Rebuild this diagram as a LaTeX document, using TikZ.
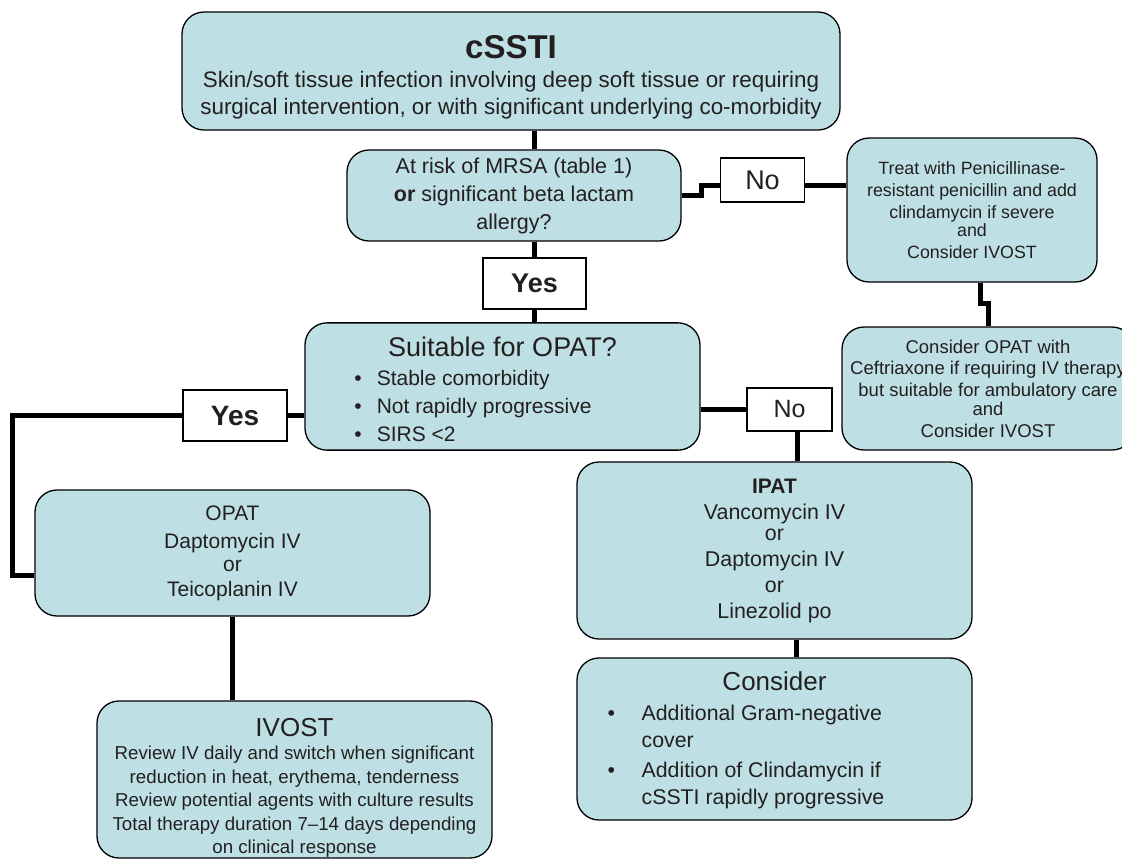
\documentclass[tikz,border=0pt]{standalone}
\usepackage{fontspec}
\setmainfont{Liberation Sans}
\usetikzlibrary{positioning}
\definecolor{boxfill}{RGB}{190,224,228}
\definecolor{inkgray}{RGB}{35,31,32}
\newcommand{\fs}[2]{\fontsize{#1}{#2}\selectfont}

\begin{document}
\begin{tikzpicture}[x=1pt, y=-1pt,
    box/.style={draw, fill=boxfill, rounded corners=22pt, line width=1.3pt, align=center, text=inkgray, inner sep=0pt},
    tag/.style={draw, fill=white, line width=1.1pt, align=center, text=inkgray, inner sep=0pt},
    link/.style={line width=5pt}]
  \useasboundingbox (0,0) rectangle (1122,860);
  \clip (0,0) rectangle (1122,860);
  % boxes
  \node[box, minimum width=658pt, minimum height=118pt, font=\fs{22.4}{27}] (cssti) at (511,71)
    {{\rule{0pt}{36pt}\fs{33}{36}\bfseries cSSTI}\\[2pt] Skin/soft tissue infection involving deep soft tissue or requiring\\ surgical intervention, or with significant underlying co-morbidity};
  \node[box, minimum width=334pt, minimum height=91pt, font=\fs{21.5}{28}] (mrsa) at (514,195.5)
    {At risk of MRSA (table 1)\\ \textbf{or} significant beta lactam\\ allergy?};
  \node[tag, minimum width=84pt, minimum height=44pt, font=\fs{27}{27}] (notop) at (762.5,180) {No};
  \node[box, minimum width=250pt, minimum height=144pt, font=\fs{17.8}{22}] (treat) at (972,210)
    {Treat with Penicillinase-\\ resistant penicillin and add\\ clindamycin if severe\\[-4pt] and\\ Consider IVOST};
  \node[tag, minimum width=103pt, minimum height=51pt, font=\fs{27}{27}\bfseries] (yestop) at (534.5,283.5) {Yes};
  \node[box, minimum width=395pt, minimum height=123pt, font=\fs{21}{28}] (suit) at (502.5,386.5)
    {{\rule{0pt}{34pt}\fs{27}{28}Suitable for OPAT?}\\[8pt]
     \begin{tabular}{@{}l@{\hspace{15pt}}l@{}}
       \textbullet & Stable comorbidity\\
       \textbullet & Not rapidly progressive\\
       \textbullet & SIRS <2
     \end{tabular}\hspace*{59pt}};
  \node[tag, minimum width=104pt, minimum height=51pt, font=\fs{28}{28}\bfseries] (yesleft) at (235,415.5) {Yes};
  \node[tag, minimum width=85pt, minimum height=43pt, font=\fs{25}{25}] (noright) at (789.5,409.5) {No};
  \node[box, minimum width=292pt, minimum height=123pt, font=\fs{18.5}{21.5}] (copat) at (988,388.5)
    {Consider OPAT with\\ Ceftriaxone if requiring IV therapy\\ but suitable for ambulatory care\\[-2pt] and\\ Consider IVOST};
  \node[box, minimum width=395pt, minimum height=126pt, font=\fs{21}{25}] (opat) at (232.5,553)
    {OPAT\\[3pt] Daptomycin IV\\[-2pt] or\\ Teicoplanin IV};
  \node[box, minimum width=395pt, minimum height=157pt, font=\fs{18.7}{23.5}] (ivost) at (294.5,779.5)
    {{\rule{0pt}{35pt}\fs{26}{28}IVOST}\\ Review IV daily and switch when significant\\ reduction in heat, erythema, tenderness\\
     Review potential agents with culture results\\ Total therapy duration 7--14 days depending\\ on clinical response};
  \node[box, minimum width=395pt, minimum height=177pt, font=\fs{21.4}{26}] (ipat) at (774.5,550.5)
    {{\fs{21}{26}\bfseries IPAT}\\ Vancomycin IV\\[-5pt] or\\ Daptomycin IV\\ or\\ Linezolid po};
  \node[box, minimum width=395pt, minimum height=162pt, font=\fs{21.3}{27}] (consider) at (774.5,739)
    {{\rule{0pt}{25pt}\fs{26}{30}Consider}\\[10pt]
     \begin{tabular}{@{}p{34pt}@{}l@{}}
       \textbullet & Additional Gram-negative\\
                   & cover\\[3pt]
       \textbullet & Addition of Clindamycin if\\
                   & cSSTI rapidly progressive
     \end{tabular}\hspace*{57pt}};
  % connectors
  \draw[link] (cssti.south -| yestop) -- (mrsa.north -| yestop);
  \draw[link] (mrsa.south -| yestop) -- (yestop.north);
  \draw[link] (yestop.south) -- (yestop.south |- suit.north);
  \draw[link] (mrsa.east) -- ++(20,0) -- ++(0,-10) coordinate (jog) -- (jog -| notop.west);
  \draw[link] (jog -| notop.east) -- (jog -| treat.west);
  \draw[link] ([xshift=8pt]treat.south) -- ++(0,21) -| (copat.north);
  \draw[link] (suit.west |- yesleft) -- (yesleft.east);
  \coordinate (bend) at (12,575);
  \draw[link] (yesleft.west) -- (yesleft.west -| bend) -- (bend) -- (opat.west |- bend);
  \draw[link] (suit.east |- noright) -- (noright.west);
  \draw[link] ([xshift=8pt]noright.south) -- ([xshift=8pt]noright.south |- ipat.north);
  \draw[link] ([xshift=21.5pt]ipat.south) -- ([xshift=21.5pt]ipat.south |- consider.north);
  \draw[link] (opat.south) -- (opat.south |- ivost.north);
\end{tikzpicture}
\end{document}
